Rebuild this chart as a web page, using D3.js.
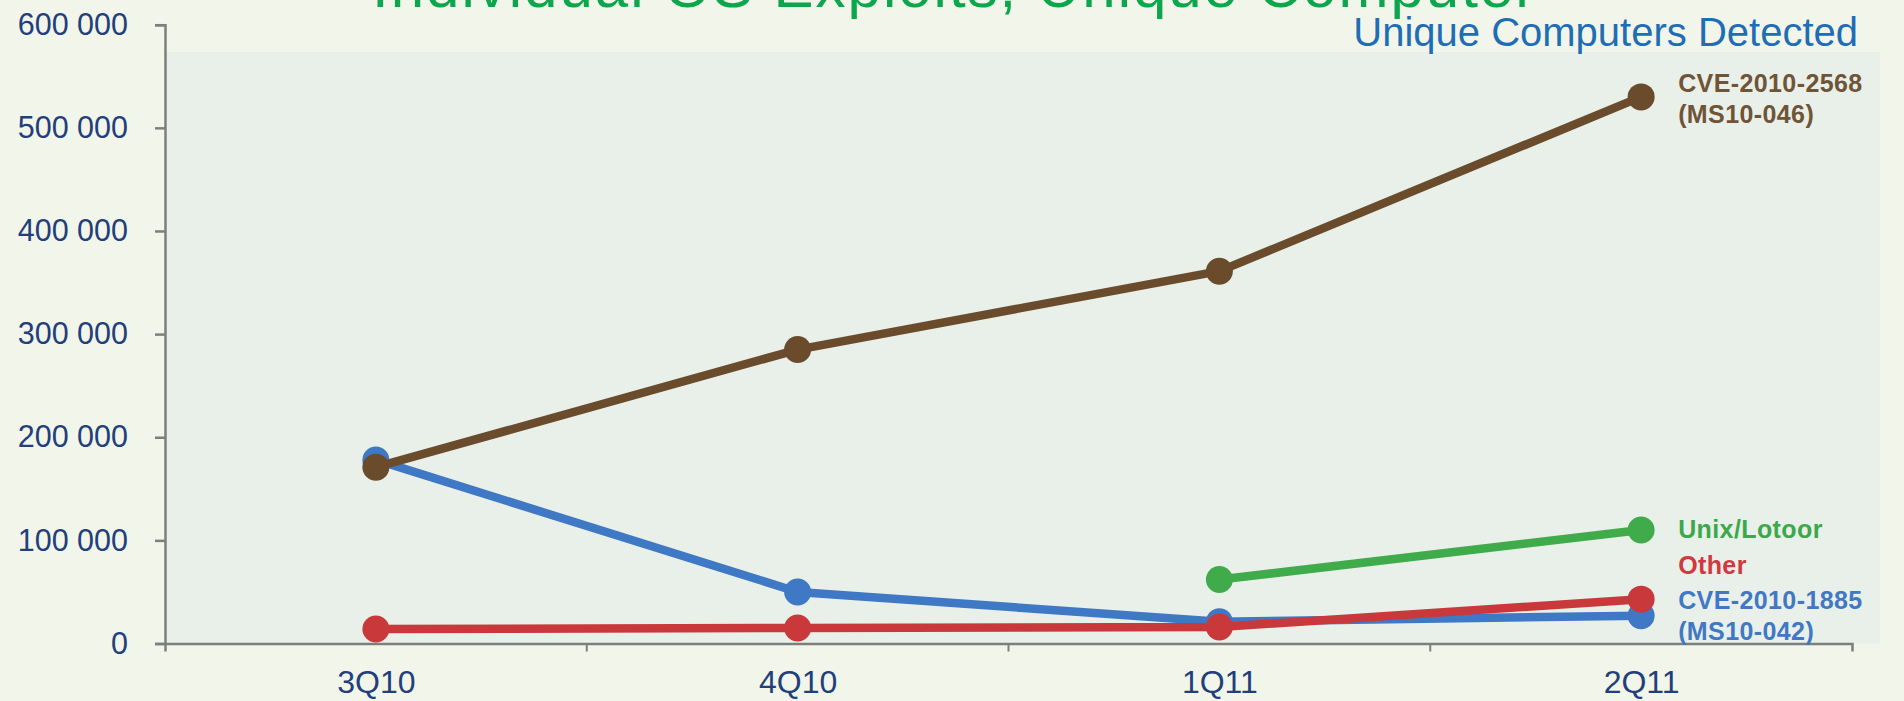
<!DOCTYPE html>
<html>
<head>
<meta charset="utf-8">
<script src="https://cdn.jsdelivr.net/npm/d3@7"></script>
<style>
  html, body { margin: 0; padding: 0; background: #f2f6ea; overflow: hidden; }
  svg { display: block; font-family: "Liberation Sans", Arial, sans-serif; }
</style>
</head>
<body>
<svg></svg>
<script>
// -------------------------------------------------------------
const width = 1904;
const height = 701;

const quarters  = ['3Q10', '4Q10', '1Q11', '2Q11'];
const yTicks    = [0, 100000, 200000, 300000, 400000, 500000, 600000];

// values (unique computers detected)
const cve2568   = [171000, 285000, 361000, 530000];
const cve1885   = [178000, 50000, 21000, 27000];
const other     = [14000, 15000, 16000, 43000];
const lotoor    = [null, null, 62000, 110000];

const seriesNames = ['CVE-2010-1885', 'Other', 'Unix/Lotoor', 'CVE-2010-2568'];

const series = [
  { name: seriesNames[0], values: cve1885, color: '#3f78c4', text: '#4178c6',
    label: ['CVE-2010-1885', '(MS10-042)'], dy: -7 },
  { name: seriesNames[1], values: other,   color: '#c9393c', text: '#cf3a40',
    label: ['Other'], dy: -25 },
  { name: seriesNames[2], values: lotoor,  color: '#40ab4a', text: '#3ca84a',
    label: ['Unix/Lotoor'], dy: 8 },
  { name: seriesNames[3], values: cve2568, color: '#6a4c2c', text: '#6f5437',
    label: ['CVE-2010-2568', '(MS10-046)'], dy: -5 }
];

const plot = { left: 165, right: 1852, top: 24.7, bottom: 643.5 };

const svg = d3.select('svg').attr('width', width).attr('height', height);

const x = d3.scalePoint().domain(quarters).range([plot.left, plot.right]).padding(0.5);
const y = d3.scaleLinear().domain([0, 600000]).range([plot.bottom, plot.top]);

drawBackground();
drawTitles();
drawAxes();
drawSeries();
drawLabels();

// -------------------------------------------------------------
function drawBackground() {
  svg.append('rect')
    .attr('x', 0).attr('y', 0)
    .attr('width', width).attr('height', height)
    .attr('fill', '#f2f6ea');

  svg.append('rect')
    .attr('x', plot.left).attr('y', 52)
    .attr('width', 1880 - plot.left).attr('height', plot.bottom - 52)
    .attr('fill', '#e9f0e9');
}

// -------------------------------------------------------------
function drawTitles() {
  // title is cut off by the top edge in the original picture
  svg.append('text')
    .attr('x', 372).attr('y', 7)
    .attr('fill', '#0ca64c')
    .style('font-size', '60px')
    .style('letter-spacing', '2px')
    .text('Individual OS Exploits, Unique Computer');

  svg.append('text')
    .attr('x', 1858).attr('y', 46)
    .attr('text-anchor', 'end')
    .attr('fill', '#1f6db5')
    .style('font-size', '40px')
    .text('Unique Computers Detected');
}

// -------------------------------------------------------------
function drawAxes() {
  const fmt = v => d3.format(',')(v).replace(/,/g, ' ');

  const yAxis = svg.append('g')
    .attr('transform', `translate(${plot.left},0)`)
    .call(d3.axisLeft(y).tickValues(yTicks).tickFormat(fmt)
      .tickSize(10).tickSizeOuter(10).tickPadding(27));

  yAxis.selectAll('path, line').attr('stroke', '#7d7f7c').attr('stroke-width', 2.5);
  yAxis.selectAll('text')
    .attr('fill', '#233e7c')
    .style('font-size', '30.5px')
    .style('font-family', '"Liberation Sans", Arial, sans-serif');

  const xAxis = svg.append('g')
    .attr('transform', `translate(0,${plot.bottom})`)
    .call(d3.axisBottom(x).tickSize(0).tickSizeOuter(8).tickPadding(27));

  xAxis.select('.domain').attr('stroke', '#7d7f7c').attr('stroke-width', 2.5);
  xAxis.selectAll('text')
    .attr('fill', '#233e7c')
    .style('font-size', '32px')
    .style('font-family', '"Liberation Sans", Arial, sans-serif');

  // small ticks between the quarters
  const step = x.step();
  xAxis.selectAll('.sep')
    .data(quarters.slice(1))
    .enter().append('line')
    .attr('class', 'sep')
    .attr('x1', d => x(d) - step / 2)
    .attr('x2', d => x(d) - step / 2)
    .attr('y1', 0).attr('y2', 8)
    .attr('stroke', '#7d7f7c')
    .attr('stroke-width', 2);
}

// -------------------------------------------------------------
function drawSeries() {
  const line = d3.line()
    .defined(d => d.v !== null)
    .x(d => x(d.q))
    .y(d => y(d.v));

  series.forEach(s => {
    const pts = quarters.map((q, i) => ({ q: q, v: s.values[i] }));
    const g = svg.append('g');

    g.append('path')
      .datum(pts)
      .attr('d', line)
      .attr('fill', 'none')
      .attr('stroke', s.color)
      .attr('stroke-width', 8.5)
      .attr('stroke-linejoin', 'round');

    g.selectAll('circle')
      .data(pts.filter(d => d.v !== null))
      .enter().append('circle')
      .attr('cx', d => x(d.q))
      .attr('cy', d => y(d.v))
      .attr('r', 13.5)
      .attr('fill', s.color);
  });
}

// -------------------------------------------------------------
function drawLabels() {
  const last = quarters[quarters.length - 1];

  series.forEach(s => {
    const yy = y(s.values[s.values.length - 1]) + s.dy;
    const t = svg.append('text')
      .attr('x', x(last) + 37)
      .attr('y', yy)
      .attr('fill', s.text)
      .style('font-size', '25px')
      .style('font-weight', 'bold')
      .style('letter-spacing', '0.4px');

    t.selectAll('tspan')
      .data(s.label)
      .enter().append('tspan')
      .attr('x', x(last) + 37)
      .attr('dy', (d, i) => i === 0 ? 0 : 31)
      .text(d => d);
  });
}
</script>
</body>
</html>
